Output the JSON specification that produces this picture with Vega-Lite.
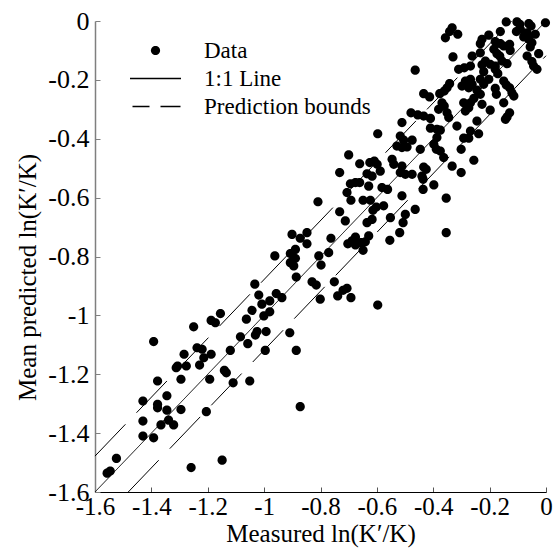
{
  "$schema": "https://vega.github.io/schema/vega-lite/v6.json",
  "width": 451,
  "height": 471,
  "padding": {"left": 15, "top": 8, "right": 5, "bottom": 5},
  "background": "white",
  "config": {"view": {"stroke": null}, "font": "Liberation Serif"},
  "datasets": {
    "lines": [
      {"line": "one", "style": "solid", "measured": -1.6, "predicted": -1.6},
      {"line": "one", "style": "solid", "measured": 0, "predicted": 0},
      {"line": "upper", "style": "dashed", "measured": -1.6, "predicted": -1.478},
      {"line": "upper", "style": "dashed", "measured": -0.122, "predicted": 0},
      {"line": "lower", "style": "dashed", "measured": -1.482, "predicted": -1.6},
      {"line": "lower", "style": "dashed", "measured": 0, "predicted": -0.118}
    ],
    "points": [
      {"measured": -1.392, "predicted": -1.089}, {"measured": -1.284, "predicted": -1.132}, {"measured": -1.312, "predicted": -1.178},
      {"measured": -1.307, "predicted": -1.172}, {"measured": -1.276, "predicted": -1.172}, {"measured": -1.378, "predicted": -1.223},
      {"measured": -1.295, "predicted": -1.217}, {"measured": -1.43, "predicted": -1.291}, {"measured": -1.345, "predicted": -1.273},
      {"measured": -1.378, "predicted": -1.302}, {"measured": -1.378, "predicted": -1.314}, {"measured": -1.345, "predicted": -1.322},
      {"measured": -1.295, "predicted": -1.32}, {"measured": -1.43, "predicted": -1.359}, {"measured": -1.366, "predicted": -1.372},
      {"measured": -1.339, "predicted": -1.356}, {"measured": -1.321, "predicted": -1.372}, {"measured": -1.43, "predicted": -1.41},
      {"measured": -1.392, "predicted": -1.416}, {"measured": -1.524, "predicted": -1.486}, {"measured": -1.546, "predicted": -1.529},
      {"measured": -1.557, "predicted": -1.536},
      {"measured": -0.962, "predicted": -0.798}, {"measured": -1.033, "predicted": -0.894}, {"measured": -1.019, "predicted": -0.931},
      {"measured": -0.957, "predicted": -0.926}, {"measured": -0.937, "predicted": -0.94}, {"measured": -0.98, "predicted": -0.951},
      {"measured": -1.008, "predicted": -0.962}, {"measured": -1.043, "predicted": -0.983}, {"measured": -0.98, "predicted": -0.988},
      {"measured": -1.001, "predicted": -1.002}, {"measured": -1.155, "predicted": -0.994}, {"measured": -1.188, "predicted": -1.017},
      {"measured": -1.173, "predicted": -1.025}, {"measured": -1.063, "predicted": -1.013}, {"measured": -1.25, "predicted": -1.039},
      {"measured": -1.025, "predicted": -1.055}, {"measured": -1.031, "predicted": -1.067}, {"measured": -0.993, "predicted": -1.055},
      {"measured": -1.084, "predicted": -1.073}, {"measured": -1.058, "predicted": -1.096}, {"measured": -1.238, "predicted": -1.11},
      {"measured": -1.22, "predicted": -1.115}, {"measured": -1.12, "predicted": -1.119}, {"measured": -0.996, "predicted": -1.119},
      {"measured": -1.214, "predicted": -1.144}, {"measured": -1.188, "predicted": -1.132}, {"measured": -1.229, "predicted": -1.169},
      {"measured": -1.141, "predicted": -1.187}, {"measured": -1.134, "predicted": -1.195}, {"measured": -1.193, "predicted": -1.217},
      {"measured": -1.11, "predicted": -1.229}, {"measured": -1.051, "predicted": -1.223}, {"measured": -1.205, "predicted": -1.327},
      {"measured": -1.149, "predicted": -1.492}, {"measured": -1.259, "predicted": -1.517},
      {"measured": -0.597, "predicted": -0.383}, {"measured": -0.7, "predicted": -0.455}, {"measured": -0.661, "predicted": -0.485},
      {"measured": -0.625, "predicted": -0.481}, {"measured": -0.609, "predicted": -0.476}, {"measured": -0.599, "predicted": -0.487},
      {"measured": -0.588, "predicted": -0.51}, {"measured": -0.732, "predicted": -0.515}, {"measured": -0.635, "predicted": -0.519},
      {"measured": -0.617, "predicted": -0.527}, {"measured": -0.694, "predicted": -0.553}, {"measured": -0.676, "predicted": -0.549},
      {"measured": -0.661, "predicted": -0.549}, {"measured": -0.629, "predicted": -0.561}, {"measured": -0.582, "predicted": -0.566},
      {"measured": -0.706, "predicted": -0.583}, {"measured": -0.692, "predicted": -0.609}, {"measured": -0.649, "predicted": -0.609},
      {"measured": -0.623, "predicted": -0.609}, {"measured": -0.809, "predicted": -0.614}, {"measured": -0.602, "predicted": -0.632},
      {"measured": -0.614, "predicted": -0.643}, {"measured": -0.576, "predicted": -0.628}, {"measured": -0.732, "predicted": -0.648},
      {"measured": -0.712, "predicted": -0.679}, {"measured": -0.635, "predicted": -0.685}, {"measured": -0.617, "predicted": -0.674},
      {"measured": -0.901, "predicted": -0.725}, {"measured": -0.848, "predicted": -0.719}, {"measured": -0.872, "predicted": -0.738},
      {"measured": -0.848, "predicted": -0.757}, {"measured": -0.763, "predicted": -0.738}, {"measured": -0.676, "predicted": -0.734},
      {"measured": -0.688, "predicted": -0.747}, {"measured": -0.629, "predicted": -0.73}, {"measured": -0.641, "predicted": -0.75},
      {"measured": -0.656, "predicted": -0.753}, {"measured": -0.703, "predicted": -0.757}, {"measured": -0.676, "predicted": -0.761},
      {"measured": -0.649, "predicted": -0.779}, {"measured": -0.889, "predicted": -0.776}, {"measured": -0.907, "predicted": -0.79},
      {"measured": -0.889, "predicted": -0.806}, {"measured": -0.907, "predicted": -0.821}, {"measured": -0.895, "predicted": -0.832},
      {"measured": -0.771, "predicted": -0.787}, {"measured": -0.806, "predicted": -0.798}, {"measured": -0.798, "predicted": -0.829},
      {"measured": -0.886, "predicted": -0.87}, {"measured": -0.83, "predicted": -0.886}, {"measured": -0.815, "predicted": -0.897},
      {"measured": -0.801, "predicted": -0.945}, {"measured": -0.751, "predicted": -0.886}, {"measured": -0.706, "predicted": -0.908},
      {"measured": -0.72, "predicted": -0.915}, {"measured": -0.739, "predicted": -0.934}, {"measured": -0.692, "predicted": -0.94},
      {"measured": -0.597, "predicted": -0.965}, {"measured": -0.909, "predicted": -1.059}, {"measured": -0.886, "predicted": -1.119},
      {"measured": -0.872, "predicted": -1.31},
      {"measured": -0.333, "predicted": -0.023}, {"measured": -0.342, "predicted": -0.036}, {"measured": -0.357, "predicted": -0.057},
      {"measured": -0.313, "predicted": -0.045}, {"measured": -0.33, "predicted": -0.122}, {"measured": -0.464, "predicted": -0.167},
      {"measured": -0.31, "predicted": -0.164}, {"measured": -0.29, "predicted": -0.159}, {"measured": -0.342, "predicted": -0.213},
      {"measured": -0.351, "predicted": -0.227}, {"measured": -0.298, "predicted": -0.221}, {"measured": -0.286, "predicted": -0.204},
      {"measured": -0.434, "predicted": -0.247}, {"measured": -0.413, "predicted": -0.258}, {"measured": -0.377, "predicted": -0.247},
      {"measured": -0.361, "predicted": -0.238}, {"measured": -0.292, "predicted": -0.278}, {"measured": -0.369, "predicted": -0.278},
      {"measured": -0.361, "predicted": -0.289}, {"measured": -0.381, "predicted": -0.3}, {"measured": -0.351, "predicted": -0.312},
      {"measured": -0.286, "predicted": -0.306}, {"measured": -0.479, "predicted": -0.312}, {"measured": -0.455, "predicted": -0.319},
      {"measured": -0.434, "predicted": -0.323}, {"measured": -0.41, "predicted": -0.331}, {"measured": -0.345, "predicted": -0.328},
      {"measured": -0.511, "predicted": -0.345}, {"measured": -0.41, "predicted": -0.364}, {"measured": -0.387, "predicted": -0.368},
      {"measured": -0.375, "predicted": -0.371}, {"measured": -0.316, "predicted": -0.357}, {"measured": -0.517, "predicted": -0.391},
      {"measured": -0.505, "predicted": -0.405}, {"measured": -0.475, "predicted": -0.405}, {"measured": -0.387, "predicted": -0.396},
      {"measured": -0.292, "predicted": -0.398}, {"measured": -0.529, "predicted": -0.425}, {"measured": -0.511, "predicted": -0.43},
      {"measured": -0.493, "predicted": -0.428}, {"measured": -0.446, "predicted": -0.436}, {"measured": -0.398, "predicted": -0.419},
      {"measured": -0.389, "predicted": -0.436}, {"measured": -0.375, "predicted": -0.442}, {"measured": -0.301, "predicted": -0.436},
      {"measured": -0.546, "predicted": -0.47}, {"measured": -0.54, "predicted": -0.487}, {"measured": -0.511, "predicted": -0.493},
      {"measured": -0.363, "predicted": -0.464}, {"measured": -0.333, "predicted": -0.493}, {"measured": -0.434, "predicted": -0.496},
      {"measured": -0.425, "predicted": -0.504}, {"measured": -0.517, "predicted": -0.515}, {"measured": -0.499, "predicted": -0.521},
      {"measured": -0.475, "predicted": -0.521}, {"measured": -0.44, "predicted": -0.527}, {"measured": -0.436, "predicted": -0.538},
      {"measured": -0.301, "predicted": -0.515}, {"measured": -0.398, "predicted": -0.557}, {"measured": -0.436, "predicted": -0.572},
      {"measured": -0.562, "predicted": -0.572}, {"measured": -0.511, "predicted": -0.594}, {"measured": -0.354, "predicted": -0.602},
      {"measured": -0.464, "predicted": -0.64}, {"measured": -0.499, "predicted": -0.657}, {"measured": -0.507, "predicted": -0.685},
      {"measured": -0.552, "predicted": -0.668}, {"measured": -0.519, "predicted": -0.719}, {"measured": -0.354, "predicted": -0.719},
      {"measured": -0.554, "predicted": -0.745},
      {"measured": -0.141, "predicted": -0.003}, {"measured": -0.103, "predicted": -0.003}, {"measured": -0.093, "predicted": -0.011},
      {"measured": -0.061, "predicted": -0.009}, {"measured": -0.053, "predicted": -0.017}, {"measured": -0.002, "predicted": -0.006},
      {"measured": -0.091, "predicted": -0.028}, {"measured": -0.105, "predicted": -0.036}, {"measured": -0.162, "predicted": -0.036},
      {"measured": -0.203, "predicted": -0.048}, {"measured": -0.067, "predicted": -0.04}, {"measured": -0.079, "predicted": -0.054},
      {"measured": -0.061, "predicted": -0.062}, {"measured": -0.05, "predicted": -0.074}, {"measured": -0.056, "predicted": -0.088},
      {"measured": -0.038, "predicted": -0.045}, {"measured": -0.227, "predicted": -0.062}, {"measured": -0.233, "predicted": -0.077},
      {"measured": -0.18, "predicted": -0.07}, {"measured": -0.162, "predicted": -0.077}, {"measured": -0.15, "predicted": -0.085},
      {"measured": -0.129, "predicted": -0.079}, {"measured": -0.127, "predicted": -0.1}, {"measured": -0.185, "predicted": -0.096},
      {"measured": -0.174, "predicted": -0.111}, {"measured": -0.164, "predicted": -0.119}, {"measured": -0.233, "predicted": -0.108},
      {"measured": -0.262, "predicted": -0.119}, {"measured": -0.067, "predicted": -0.119}, {"measured": -0.026, "predicted": -0.111},
      {"measured": -0.156, "predicted": -0.136}, {"measured": -0.138, "predicted": -0.145}, {"measured": -0.215, "predicted": -0.136},
      {"measured": -0.198, "predicted": -0.147}, {"measured": -0.18, "predicted": -0.153}, {"measured": -0.05, "predicted": -0.138},
      {"measured": -0.044, "predicted": -0.153}, {"measured": -0.032, "predicted": -0.164}, {"measured": -0.227, "predicted": -0.149},
      {"measured": -0.221, "predicted": -0.172}, {"measured": -0.18, "predicted": -0.164}, {"measured": -0.171, "predicted": -0.179},
      {"measured": -0.268, "predicted": -0.153}, {"measured": -0.268, "predicted": -0.198}, {"measured": -0.262, "predicted": -0.215},
      {"measured": -0.274, "predicted": -0.227}, {"measured": -0.233, "predicted": -0.198}, {"measured": -0.221, "predicted": -0.215},
      {"measured": -0.245, "predicted": -0.235}, {"measured": -0.233, "predicted": -0.249}, {"measured": -0.203, "predicted": -0.198},
      {"measured": -0.15, "predicted": -0.204}, {"measured": -0.141, "predicted": -0.217}, {"measured": -0.129, "predicted": -0.227},
      {"measured": -0.121, "predicted": -0.244}, {"measured": -0.114, "predicted": -0.255}, {"measured": -0.18, "predicted": -0.229},
      {"measured": -0.176, "predicted": -0.249}, {"measured": -0.256, "predicted": -0.263}, {"measured": -0.268, "predicted": -0.278},
      {"measured": -0.274, "predicted": -0.295}, {"measured": -0.227, "predicted": -0.283}, {"measured": -0.198, "predicted": -0.303},
      {"measured": -0.15, "predicted": -0.278}, {"measured": -0.129, "predicted": -0.312}, {"measured": -0.138, "predicted": -0.326},
      {"measured": -0.144, "predicted": -0.334}, {"measured": -0.245, "predicted": -0.34}, {"measured": -0.274, "predicted": -0.398},
      {"measured": -0.239, "predicted": -0.383}, {"measured": -0.256, "predicted": -0.473}, {"measured": -0.268, "predicted": -0.374}
    ]
  },
  "encoding": {
    "x": {
      "field": "measured", "type": "quantitative",
      "scale": {"domain": [-1.6, 0], "nice": false, "zero": false},
      "axis": {
        "title": "Measured ln(K′/K)",
        "values": [-1.6, -1.4, -1.2, -1, -0.8, -0.6, -0.4, -0.2, 0],
        "format": ".1~f",
        "labelExpr": "replace(datum.label, '−', '-')",
        "grid": false, "tickSize": -5, "labelPadding": 7,
        "labelFont": "Liberation Serif", "labelFontSize": 25, "labelColor": "black",
        "labelFlush": false, "labelOverlap": false,
        "titleFont": "Liberation Serif", "titleFontSize": 25, "titleFontWeight": "normal", "titleColor": "black",
        "titlePadding": 2,
        "domainColor": "black", "domainWidth": 1.2, "tickColor": "#555555", "tickWidth": 1
      }
    },
    "y": {
      "field": "predicted", "type": "quantitative",
      "scale": {"domain": [-1.6, 0], "nice": false, "zero": false},
      "axis": {
        "title": "Mean predicted ln(K′/K)",
        "values": [-1.6, -1.4, -1.2, -1, -0.8, -0.6, -0.4, -0.2, 0],
        "format": ".1~f",
        "labelExpr": "replace(datum.label, '−', '-')",
        "grid": false, "tickSize": -5, "labelPadding": 11,
        "labelFont": "Liberation Serif", "labelFontSize": 26, "labelColor": "black",
        "labelFlush": false, "labelOverlap": false,
        "titleFont": "Liberation Serif", "titleFontSize": 25, "titleFontWeight": "normal", "titleColor": "black",
        "titlePadding": 7, "titleY": 256,
        "domainColor": "#7f7f7f", "domainWidth": 1.5, "tickColor": "#7f7f7f", "tickWidth": 1
      }
    }
  },
  "layer": [
    {
      "data": {"name": "lines"},
      "mark": {"type": "line", "color": "black", "strokeWidth": 1},
      "encoding": {
        "detail": {"field": "line", "type": "nominal"},
        "strokeDash": {
          "field": "style", "type": "nominal",
          "scale": {"domain": ["solid", "dashed"], "range": [[1, 0], [44, 16]]},
          "legend": null
        }
      }
    },
    {
      "data": {"name": "points"},
      "mark": {"type": "point", "filled": true, "color": "black", "opacity": 1, "size": 400},
      "encoding": {
        "shape": {
          "datum": "Data", "type": "nominal",
          "scale": {
            "domain": ["Data", "1:1 Line", "Prediction bounds"],
            "range": [
              "M0.46,0A0.46,0.46,0,1,1,-0.46,0A0.46,0.46,0,1,1,0.46,0Z",
              "M-2.55,-0.065H2.55V0.065H-2.55Z",
              "M-2.3,-0.065H-0.6V0.065H-2.3ZM0.5,-0.065H2.5V0.065H0.5Z"
            ]
          },
          "legend": {
            "orient": "none", "legendX": 49, "legendY": 18,
            "title": null,
            "symbolSize": 400,
            "symbolStrokeWidth": 0,
            "symbolFillColor": "black", "symbolOpacity": 1,
            "labelFont": "Liberation Serif", "labelFontSize": 23, "labelColor": "black",
            "labelLimit": 0,
            "labelOffset": 37, "rowPadding": 4, "padding": 0
          }
        }
      }
    }
  ]
}
